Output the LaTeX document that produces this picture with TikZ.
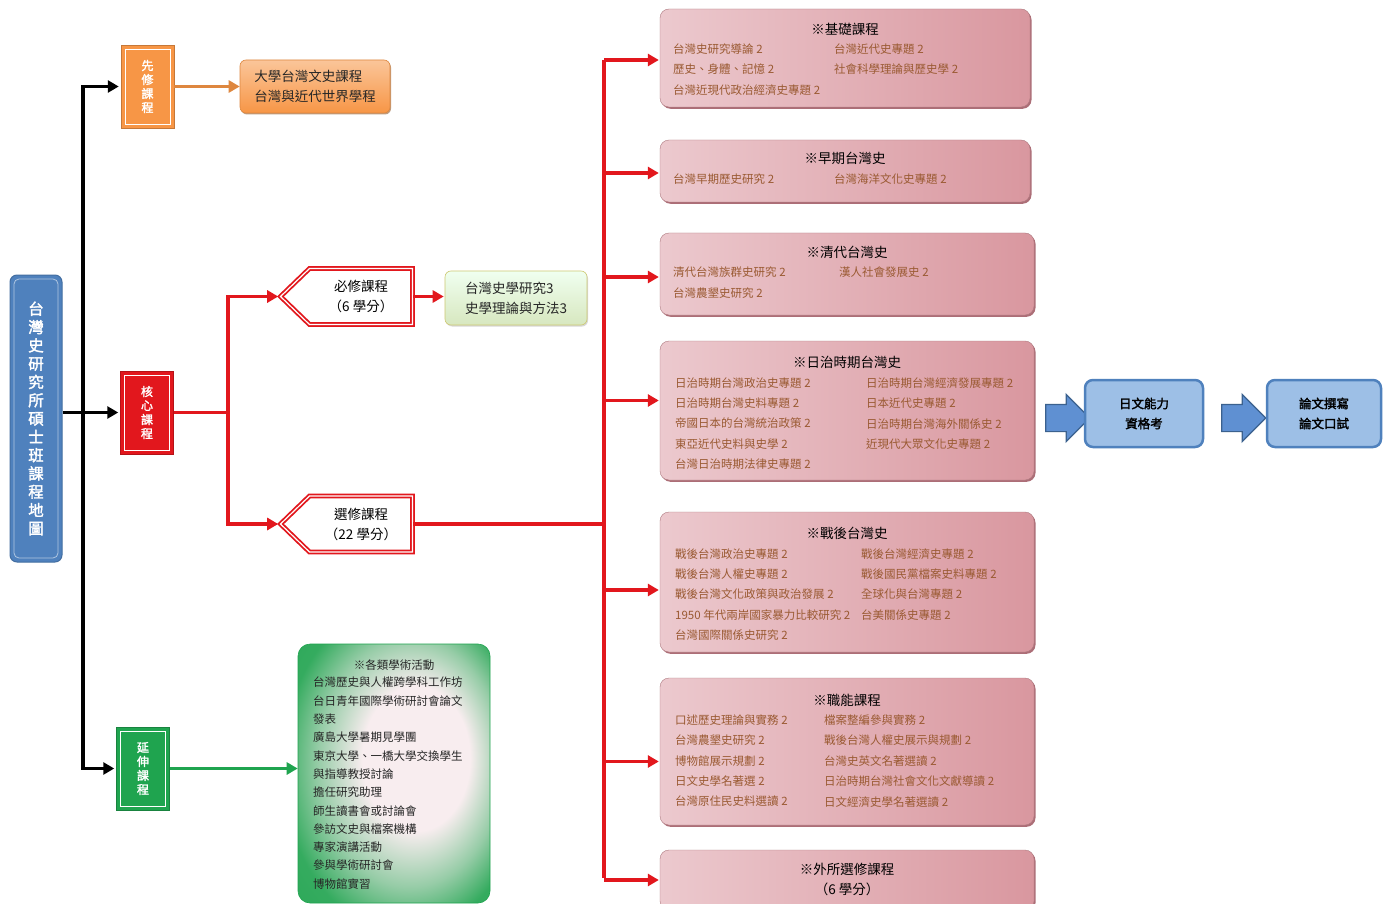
\documentclass[tikz,border=0pt]{standalone}
\usepackage{fontspec}
\setmainfont{Noto Sans CJK TC}
\newfontfamily\boldcjk[FakeBold=2]{Noto Sans CJK TC}
\usetikzlibrary{arrows.meta,shapes.symbols,shapes.arrows,shadows}
\definecolor{mapblue}{HTML}{4F81BD}
\definecolor{preorg}{HTML}{F79646}
\definecolor{corered}{HTML}{E2171D}
\definecolor{extgreen}{HTML}{1FA44F}
\definecolor{pinklight}{HTML}{F8EDEF}
\definecolor{pinkside}{HTML}{ECC9CE}
\definecolor{pinkdark}{HTML}{D9979F}
\definecolor{pinkedge}{HTML}{9E5560}
\definecolor{coursebrown}{HTML}{9A5A32}
\definecolor{procblue}{HTML}{9DBFE6}
\definecolor{arrowblue}{HTML}{5F90D2}
\pgfdeclareradialshading{actshade}{\pgfpoint{8bp}{4bp}}{color(0bp)=(pinklight);
  color(14bp)=(pinklight);color(24bp)=(extgreen!45!pinklight);color(32bp)=(extgreen!90!pinklight);
  color(50bp)=(extgreen)}
\tikzset{
% boxes of the course map
title box/.style={rectangle,rounded corners=7pt,fill=mapblue,draw=mapblue!85!black,line width=1pt,
  minimum width=52pt,minimum height=287pt,text=white,align=center,
  font=\boldcjk\fontsize{15.5}{18.3}\selectfont,
  path picture={\draw[mapblue!45!white,line width=0.8pt,rounded corners=5pt]
    ([shift={(4pt,4pt)}]path picture bounding box.south west) rectangle
    ([shift={(-4pt,-4pt)}]path picture bounding box.north east);}},
side box/.style={rectangle,fill=#1,draw=#1!80!black,line width=0.5pt,
  minimum width=53pt,minimum height=83pt,text=white,align=center,
  font=\boldcjk\fontsize{12}{14}\selectfont,
  path picture={\draw[white,line width=0.8pt]
    ([shift={(4pt,4pt)}]path picture bounding box.south west) rectangle
    ([shift={(-4pt,-4pt)}]path picture bounding box.north east);}},
sign box/.style={signal,signal to=west,signal pointer angle=88,draw=corered,double=white,
  double distance=1.2pt,line width=1.8pt,fill=white,minimum width=132pt,minimum height=56pt,
  align=center,font=\fontsize{13.5}{20}\selectfont},
pink box/.style={rectangle,rounded corners=9pt,left color=pinkside,middle color=pinklight,
  right color=pinkdark,draw=pinkdark!80!black,line width=0.4pt,
  drop shadow={shadow xshift=1.5pt,shadow yshift=-1.8pt,fill=pinkedge,opacity=0.85}},
pink title/.style={font=\fontsize{13.5}{16}\selectfont,text=black},
course/.style={anchor=west,inner sep=0pt,text=coursebrown,font=\fontsize{11.5}{14}\selectfont},
proc box/.style={rectangle,rounded corners=8pt,fill=procblue,draw=mapblue,line width=2.5pt,
  minimum height=67pt,align=center,text=black,font=\boldcjk\fontsize{12.5}{20}\selectfont},
fat arrow/.style={single arrow,single arrow head extend=10pt,fill=arrowblue,draw=mapblue!75!black,
  line width=1.2pt,minimum height=44pt,inner xsep=0pt,inner ysep=13pt},
black line/.style={line width=3.8pt,black},
red line/.style={line width=3.8pt,corered},
red arrow/.style={red line,-{Triangle[length=11pt,width=12pt]},shorten >=1pt},
tip/.style={-{Triangle[length=11pt,width=12pt]}}
}
\begin{document}
\begin{tikzpicture}[x=1pt,y=-1pt]
\useasboundingbox[fill=white] (0,0) rectangle (1392,904);

% left column
\node[title box] (map) at (36,418.5) {台\\灣\\史\\研\\究\\所\\碩\\士\\班\\課\\程\\地\\圖};
\node[side box=preorg] (pre) at (147.5,86.5) {先\\修\\課\\程};
\node[side box=corered] (core) at (147,412.5) {核\\心\\課\\程};
\node[side box=extgreen] (ext) at (143,768.5) {延\\伸\\課\\程};
\coordinate (trunk) at (83,415);
\draw[black line,{Triangle[length=11pt,width=12pt]}-{Triangle[length=11pt,width=12pt]},shorten <=2pt,shorten >=2pt]
  (pre.west) -| (trunk) |- (ext.west);
\draw[black line,tip,shorten >=2pt] (map.east |- core.west) -- (core.west);

% prerequisite
\node[rectangle,rounded corners=6pt,top color=preorg!55!white,bottom color=preorg,draw=preorg!90!black,
  line width=0.6pt,minimum width=150pt,minimum height=53pt,align=left,
  font=\fontsize{13.5}{20}\selectfont,text=black!85,
  drop shadow={shadow xshift=1pt,shadow yshift=-1.5pt,fill=preorg!60!black,opacity=0.6}]
  (prelist) at (315,86.5) {大學台灣文史課程\\台灣與近代世界學程};
\draw[line width=3.2pt,preorg!90!black,tip] (pre.east) -- (pre.east -| prelist.west);

% core courses
\node[sign box] (must) at (361,296.5) {必修課程\\（6 學分）};
\node[sign box] (elec) at (361,524) {選修課程\\（22 學分）};
\coordinate (split) at (228,0);
\draw[red line] (core.east) -- (core.east -| split);
\draw[red arrow] (core.east -| split) |- (must.west);
\draw[red arrow] (core.east -| split) |- (elec.west);
\node[rectangle,rounded corners=6pt,top color=green!6!white,bottom color=green!25!olive!25!white,
  draw=olive!45!white,line width=0.6pt,minimum width=142pt,minimum height=54pt,align=left,
  font=\fontsize{13.5}{20}\selectfont,text=black!85,
  drop shadow={shadow xshift=1pt,shadow yshift=-1.5pt,fill=black!30,opacity=0.5}]
  (reqlist) at (516,298) {台灣史學研究3\\史學理論與方法3};
\draw[red arrow] (must.east) -- (must.east -| reqlist.west);

% elective groups
\node[pink box,minimum width=370pt,minimum height=98pt] (b1) at (845,58) {};
\node[pink box,minimum width=370pt,minimum height=62pt] (b2) at (845,171) {};
\node[pink box,minimum width=374pt,minimum height=82pt] (b3) at (847,274) {};
\node[pink box,minimum width=374pt,minimum height=139pt] (b4) at (847,410.5) {};
\node[pink box,minimum width=374pt,minimum height=140pt] (b5) at (847,582) {};
\node[pink box,minimum width=374pt,minimum height=147pt] (b6) at (847,751.5) {};
\node[pink box,minimum width=374pt,minimum height=60pt] (b7) at (847,880) {};

\coordinate (rtrunk) at (604,0);
\draw[red line] (elec.east) -- (elec.east -| rtrunk);
\draw[red line] ([yshift=-2pt]rtrunk |- b1.west) -- ([yshift=1.9pt]rtrunk |- b7.west);
\foreach \b/\dy in {b1/-2,b2/-2,b3/-3,b4/10,b5/-8,b6/-10,b7/0}
  \draw[red arrow] ([yshift=\dy pt]rtrunk |- \b.west) -- ([yshift=\dy pt]\b.west);

\node[pink title] (t1) at (845,29) {※基礎課程};
\foreach \t [count=\i from 0] in {台灣史研究導論 2,歷史、身體、記憶 2,台灣近現代政治經濟史專題 2}
  \node[course] (b1l\i) at (673,49+20.5*\i) {\t};
\foreach \t [count=\i from 0] in {台灣近代史專題 2,社會科學理論與歷史學 2}
  \node[course] (b1r\i) at (834,49+20.5*\i) {\t};

\node[pink title] (t2) at (845,158) {※早期台灣史};
\node[course] (b2l0) at (673,179) {台灣早期歷史研究 2};
\node[course] (b2r0) at (834,179) {台灣海洋文化史專題 2};

\node[pink title] (t3) at (847,252) {※清代台灣史};
\node[course] (b3l0) at (673,272) {清代台灣族群史研究 2};
\node[course] (b3l1) at (673,293) {台灣農墾史研究 2};
\node[course] (b3r0) at (839,272) {漢人社會發展史 2};

\node[pink title] (t4) at (847,362) {※日治時期台灣史};
\foreach \t [count=\i from 0] in {日治時期台灣政治史專題 2,日治時期台灣史料專題 2,帝國日本的台灣統治政策 2,東亞近代史料與史學 2,台灣日治時期法律史專題 2}
  \node[course] (b4l\i) at (675,383+20.3*\i) {\t};
\foreach \t [count=\i from 0] in {日治時期台灣經濟發展專題 2,日本近代史專題 2,日治時期台灣海外關係史 2,近現代大眾文化史專題 2}
  \node[course] (b4r\i) at (866,383+20.3*\i) {\t};

\node[pink title] (t5) at (847,533) {※戰後台灣史};
\foreach \t [count=\i from 0] in {戰後台灣政治史專題 2,戰後台灣人權史專題 2,戰後台灣文化政策與政治發展 2,1950 年代兩岸國家暴力比較研究 2,台灣國際關係史研究 2}
  \node[course] (b5l\i) at (675,554+20.3*\i) {\t};
\foreach \t [count=\i from 0] in {戰後台灣經濟史專題 2,戰後國民黨檔案史料專題 2,全球化與台灣專題 2,台美關係史專題 2}
  \node[course] (b5r\i) at (861,554+20.3*\i) {\t};

\node[pink title] (t6) at (847,700) {※職能課程};
\foreach \t [count=\i from 0] in {口述歷史理論與實務 2,台灣農墾史研究 2,博物館展示規劃 2,日文史學名著選 2,台灣原住民史料選讀 2}
  \node[course] (b6l\i) at (675,720+20.4*\i) {\t};
\foreach \t [count=\i from 0] in {檔案整編參與實務 2,戰後台灣人權史展示與規劃 2,台灣史英文名著選讀 2,日治時期台灣社會文化文獻導讀 2,日文經濟史學名著選讀 2}
  \node[course] (b6r\i) at (824,720+20.4*\i) {\t};

\node[pink title,align=center,font=\fontsize{13.5}{20}\selectfont] (t7) at (847,879) {※外所選修課程\\（6 學分）};

% after the courses
\node[fat arrow] (f1) at (1061,418) {};
\node[proc box,minimum width=118pt] (jp) at (1144,413.5) {日文能力\\資格考};
\node[fat arrow] (f2) at (1237,418) {};
\node[proc box,minimum width=114pt] (thesis) at (1324,413.5) {論文撰寫\\論文口試};

% extension activities
\node[rectangle,rounded corners=12pt,shading=actshade,draw=extgreen,
  line width=0.6pt,minimum width=192pt,minimum height=259pt] (acts) at (394,773.5) {};
\draw[line width=3.2pt,extgreen,tip] (ext.east) -- (ext.east -| acts.west);
\node[font=\fontsize{11.5}{14}\selectfont,text=black!85] (acttitle) at (394,665) {※各類學術活動};
\node[anchor=north west,inner sep=0pt,align=left,font=\fontsize{11.5}{18.3}\selectfont,text=black!85]
  (actlist) at (313,677) {台灣歷史與人權跨學科工作坊\\台日青年國際學術研討會論文\\發表\\廣島大學暑期見學團\\東京大學、一橋大學交換學生\\與指導教授討論\\擔任研究助理\\師生讀書會或討論會\\參訪文史與檔案機構\\專家演講活動\\參與學術研討會\\博物館實習};
\end{tikzpicture}
\end{document}
